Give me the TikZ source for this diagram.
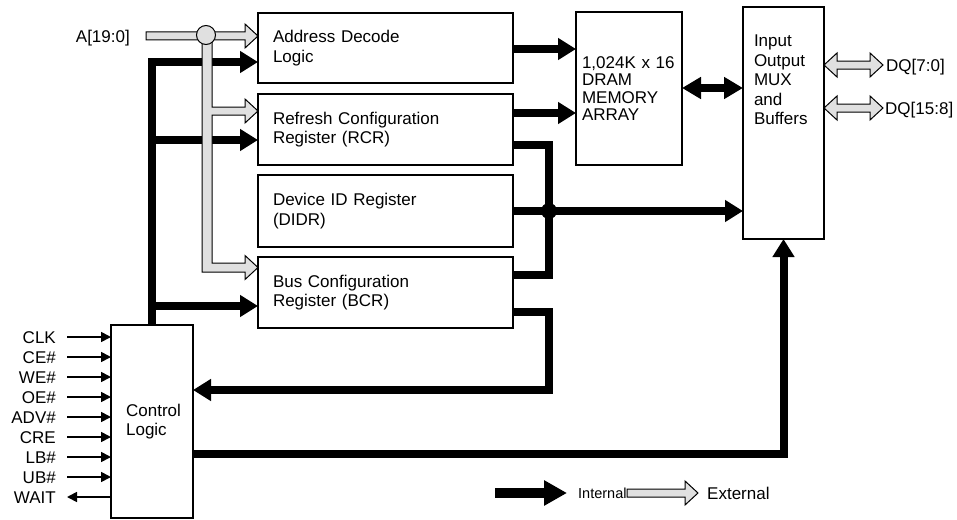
\documentclass[tikz,border=0pt]{standalone}
\usepackage{fontspec}
\setmainfont{Liberation Sans}
\usetikzlibrary{arrows.meta,calc}
\newcommand\garrow[2]{%
  \path[gbus] let \p1=(#1), \p2=(#2) in
    (\x1,\y1+4pt) -- (\x2-13pt,\y1+4pt) -- (\x2-13pt,\y1+12pt) -- (\x2,\y1)
    -- (\x2-13pt,\y1-12pt) -- (\x2-13pt,\y1-4pt) -- (\x1,\y1-4pt) -- cycle;}
\newcommand\gdarrow[2]{%
  \path[gbus] let \p1=(#1), \p2=(#2) in
    (\x1,\y1) -- (\x1+13pt,\y1+12pt) -- (\x1+13pt,\y1+4pt) -- (\x2-13pt,\y1+4pt)
    -- (\x2-13pt,\y1+12pt) -- (\x2,\y1) -- (\x2-13pt,\y1-12pt) -- (\x2-13pt,\y1-4pt)
    -- (\x1+13pt,\y1-4pt) -- (\x1+13pt,\y1-12pt) -- cycle;}
\newcommand\insig[3]{%
  \node[lbl, anchor=east, text height=12pt, text depth=0pt] (#1) at (56,#2) {#3};
  \draw[sig] (#1.east -| 67,0) -- (ctl.west |- #1.east);}
\begin{document}
\begin{tikzpicture}[x=1pt,y=-1pt,
  blk/.style={draw, line width=1.8pt, anchor=north west, inner ysep=0pt, outer sep=0pt,
    align=left, font=\fontsize{17}{19.5}\selectfont},
  ibus/.style={line width=8pt, -{Triangle[length=18pt,width=21pt]}},
  iline/.style={line width=8pt},
  sig/.style={line width=1.7pt, -{Triangle[length=10pt,width=10pt]}},
  gbus/.style={fill=black!12, draw=black, line width=1pt, line join=miter},
  lbl/.style={font=\fontsize{17}{19.5}\selectfont, inner sep=0pt}
]
\useasboundingbox (0,0) rectangle (957,519);

% blocks
\node[blk, minimum width=255pt, minimum height=70pt, text width=225pt, inner xsep=15pt] (adl) at (258,13) {Address Decode\\Logic};
\node[blk, minimum width=255pt, minimum height=71pt, text width=225pt, inner xsep=15pt] (rcr) at (258,94) {Refresh Configuration\\Register (RCR)};
\node[blk, minimum width=255pt, minimum height=72pt, text width=225pt, inner xsep=15pt] (didr) at (258,175) {Device ID Register\\(DIDR)};
\node[blk, minimum width=255pt, minimum height=71pt, text width=225pt, inner xsep=15pt] (bcr) at (258,257) {Bus Configuration\\Register (BCR)};
\node[blk, minimum width=106pt, minimum height=153pt, text width=94pt, inner xsep=6pt,
      font=\fontsize{17}{17.5}\selectfont] (mem) at (576,12) {1,024K x 16\\DRAM\\MEMORY\\ARRAY};
\node[blk, minimum width=81pt, minimum height=232pt, inner xsep=11pt] (io) at (743,7)
  {\parbox[c][232pt][t]{59pt}{\vspace*{28pt}Input\\Output\\MUX\\and\\Buffers}};
\node[blk, minimum width=82pt, minimum height=193pt, inner xsep=0pt] (ctl) at (111,325) {\hspace*{3pt}Control\\\hspace*{3pt}Logic};

% internal (black) buses
\coordinate (jn) at (549,211);
\draw[ibus] (ctl.north) |- (adl.west |- 0,62);
\draw[ibus] (ctl.north |- 0,140) -- (rcr.west |- 0,140);
\draw[ibus] (ctl.north |- 0,306) -- (bcr.west |- 0,306);
\draw[ibus] (adl.east |- 0,49) -- (mem.west |- 0,49);
\draw[ibus] (rcr.east |- 0,113) -- (mem.west |- 0,113);
\draw[iline] (rcr.east |- 0,145) -| (jn |- 0,275) -- (bcr.east |- 0,275);
\draw[ibus] (didr.east |- jn) -- (io.west |- jn);
\fill (jn) circle (8pt);
\draw[ibus] (bcr.east |- 0,312) -| (jn |- 0,390) -- (ctl.east |- 0,390);
\draw[ibus] (ctl.east |- 0,454) -| (io.south);
\draw[line width=8pt, {Triangle[length=19pt,width=21pt]}-{Triangle[length=19pt,width=21pt]}]
  (mem.east |- 0,88) -- (io.west |- 0,88);

% external (grey) address bus
\node[lbl, anchor=east, text height=12pt, text depth=0pt] (addr) at (130,36) {A[19:0]};
\coordinate (abus) at (146,36);
\garrow{abus}{adl.west |- abus}
\path[gbus] (202,36) -- (202,272) -- (245,272) -- (245,279.5) -- (258,267.5) -- (245,255.5)
  -- (245,263) -- (212,263) -- (212,115) -- (245,115) -- (245,123) -- (258,111)
  -- (245,99) -- (245,107) -- (212,107) -- (212,36) -- cycle;
\filldraw[gbus] (206,35) circle (9.5pt);

% data buses
\coordinate (dq1) at (io.east |- 0,65);
\coordinate (dq1e) at (883,65);
\coordinate (dq2) at (io.east |- 0,108);
\coordinate (dq2e) at (883,108);
\gdarrow{dq1}{dq1e}
\gdarrow{dq2}{dq2e}
\node[lbl, anchor=west, text height=12pt, text depth=0pt, xshift=3pt] (dqa) at (dq1e) {DQ[7:0]};
\node[lbl, anchor=west, text height=12pt, text depth=0pt, xshift=2pt] (dqb) at (dq2e) {DQ[15:8]};

% control signals
\insig{sclk}{337}{CLK}
\insig{sce}{357}{CE\#}
\insig{swe}{377}{WE\#}
\insig{soe}{397}{OE\#}
\insig{sadv}{417}{ADV\#}
\insig{scre}{437}{CRE}
\insig{slb}{457}{LB\#}
\insig{sub}{477}{UB\#}
\node[lbl, anchor=east, text height=12pt, text depth=0pt] (swait) at (56,497) {WAIT};
\draw[sig] (ctl.west |- swait.east) -- (swait.east -| 67,0);

% legend
\coordinate (li1) at (495,493);
\coordinate (li2) at (567,493);
\draw[line width=10pt, -{Triangle[length=23pt,width=24pt]}] (li1) -- (li2);
\node[lbl, anchor=west, text height=11pt, text depth=0pt, font=\fontsize{14.5}{17}\selectfont] (lint) at (578,493) {Internal};
\coordinate (le1) at (627,493);
\coordinate (le2) at (698,493);
\garrow{le1}{le2}
\node[lbl, anchor=west, text height=12pt, text depth=0pt] (lext) at (707,493) {External};
\end{tikzpicture}
\end{document}
